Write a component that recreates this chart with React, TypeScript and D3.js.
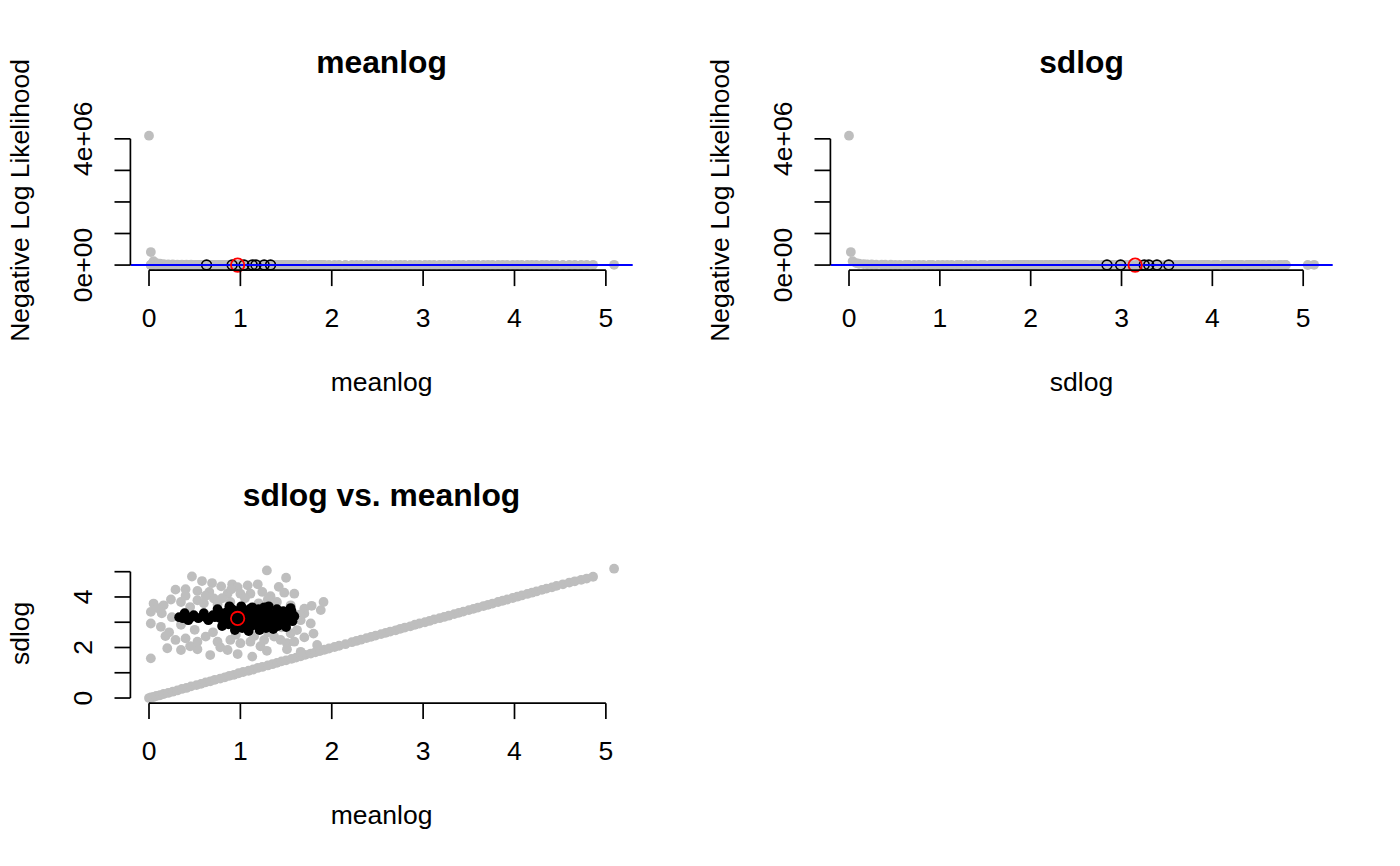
import React from 'react';
import * as d3 from 'd3';

// evaluated parameter sets along the start line: [meanlog, sdlog, negative log likelihood]
const diagonalPoints: [number, number, number][] = [
  [0.00, 0.00, 4100000], [0.02, 0.02, 412000], [0.05, 0.04, 121000], [0.08, 0.08, 64000],
  [0.12, 0.11, 41000], [0.16, 0.16, 29500], [0.21, 0.20, 22800], [0.26, 0.25, 18400],
  [0.31, 0.30, 15300], [0.36, 0.36, 13100], [0.41, 0.40, 11500], [0.46, 0.46, 10200],
  [0.52, 0.51, 9200], [0.57, 0.56, 8400], [0.62, 0.62, 7700], [0.67, 0.66, 7100],
  [0.72, 0.72, 6600], [0.78, 0.77, 6200], [0.83, 0.82, 5800], [0.88, 0.88, 5500],
  [0.93, 0.92, 5200], [0.98, 0.98, 4950], [1.03, 1.03, 4720], [1.09, 1.08, 4510],
  [1.14, 1.13, 4330], [1.19, 1.19, 4160], [1.24, 1.23, 4010], [1.30, 1.29, 3870],
  [1.35, 1.34, 3750], [1.40, 1.39, 3640], [1.45, 1.45, 3540], [1.50, 1.49, 3450],
  [1.56, 1.55, 3370], [1.61, 1.60, 3300], [1.66, 1.65, 3240], [1.71, 1.71, 3190],
  [1.77, 1.76, 3150], [1.82, 1.81, 3110], [1.87, 1.86, 3080], [1.92, 1.91, 3060],
  [1.97, 1.96, 3050], [2.03, 2.02, 3040], [2.08, 2.07, 3040], [2.15, 2.13, 3050],
  [2.22, 2.21, 3070], [2.27, 2.26, 3090], [2.32, 2.31, 3110], [2.38, 2.37, 3140],
  [2.43, 2.42, 3170], [2.48, 2.47, 3210], [2.54, 2.53, 3250], [2.59, 2.58, 3290],
  [2.64, 2.63, 3340], [2.70, 2.68, 3390], [2.75, 2.74, 3450], [2.80, 2.79, 3510],
  [2.86, 2.84, 3570], [2.91, 2.90, 3640], [2.96, 2.95, 3710], [3.02, 3.00, 3780],
  [3.07, 3.05, 3860], [3.12, 3.11, 3940], [3.18, 3.16, 4020], [3.23, 3.21, 4110],
  [3.28, 3.26, 4200], [3.34, 3.32, 4290], [3.39, 3.37, 4390], [3.44, 3.42, 4490],
  [3.50, 3.48, 4590], [3.55, 3.53, 4700], [3.60, 3.58, 4810], [3.66, 3.64, 4920],
  [3.71, 3.69, 5040], [3.76, 3.74, 5160], [3.82, 3.80, 5280], [3.87, 3.85, 5410],
  [3.92, 3.90, 5540], [3.98, 3.96, 5670], [4.03, 4.01, 5810], [4.08, 4.06, 5950],
  [4.14, 4.12, 6090], [4.19, 4.17, 6240], [4.24, 4.22, 6390], [4.30, 4.28, 6540],
  [4.35, 4.33, 6700], [4.41, 4.38, 6860], [4.46, 4.44, 7020], [4.53, 4.50, 7200],
  [4.60, 4.57, 7390], [4.66, 4.62, 7560], [4.73, 4.68, 7740], [4.79, 4.73, 7910],
  [4.86, 4.80, 8100], [5.09, 5.12, 8800],
];

// scattered evaluations around the optimum: [meanlog, sdlog, nll]
const cloudPoints: [number, number, number][] = [
  [1.29, 5.05, 2410], [0.47, 4.81, 2290], [1.50, 4.76, 2350], [0.58, 4.63, 2150],
  [0.69, 4.55, 2080], [0.79, 4.42, 1990], [0.66, 4.20, 1880], [0.91, 4.50, 2040],
  [0.97, 4.39, 1960], [1.08, 4.46, 2010], [1.19, 4.50, 2070], [0.29, 4.29, 2120],
  [0.40, 4.31, 2060], [0.53, 4.24, 1950], [0.86, 4.13, 1790], [1.00, 4.13, 1770],
  [1.11, 4.13, 1790], [1.33, 4.03, 1830], [1.48, 4.17, 1980], [1.59, 4.13, 2040],
  [1.24, 4.20, 1870], [0.05, 3.74, 2380], [0.16, 3.67, 2050], [0.24, 3.90, 2030],
  [0.35, 3.80, 1860], [0.02, 3.41, 2510], [0.14, 3.35, 2020], [0.02, 2.95, 2790],
  [0.13, 2.82, 2240], [0.18, 2.45, 2460], [0.29, 2.30, 2530], [0.40, 2.36, 2300],
  [0.02, 1.57, 4310], [0.53, 3.87, 1690], [0.71, 3.94, 1650], [0.89, 3.80, 1560],
  [1.40, 3.80, 1720], [1.55, 3.67, 1790], [1.70, 3.54, 1930], [1.91, 3.80, 2260],
  [1.88, 3.48, 2150], [1.77, 2.95, 2180], [1.70, 3.35, 1990], [1.66, 3.08, 1880],
  [1.62, 2.69, 2010], [1.70, 2.40, 2330], [1.55, 2.56, 2060], [1.51, 2.17, 2470],
  [0.53, 2.23, 2410], [0.62, 2.43, 2180], [0.75, 2.23, 2350], [0.89, 2.30, 2250],
  [1.00, 2.17, 2400], [1.11, 2.23, 2330], [1.26, 2.30, 2290], [1.37, 2.43, 2180],
  [1.44, 2.30, 2330], [1.59, 2.23, 2480], [0.20, 1.97, 3080], [0.35, 1.90, 3090],
  [0.53, 1.93, 2890], [0.78, 2.01, 2700], [0.97, 1.74, 3190], [1.13, 1.64, 3450],
  [1.29, 1.87, 2990], [1.51, 1.93, 3030], [1.66, 1.83, 3300], [1.84, 2.10, 3010],
  [0.86, 1.90, 2880], [0.67, 1.70, 3320], [0.45, 3.60, 1560], [0.60, 3.75, 1590],
  [0.75, 3.70, 1530], [1.20, 3.75, 1580], [1.30, 3.90, 1700], [0.50, 2.70, 1690],
  [0.70, 2.60, 1680], [1.30, 2.60, 1720], [1.45, 2.80, 1660], [0.25, 3.20, 1790],
  [0.35, 2.90, 1780], [1.65, 3.30, 1740], [0.90, 4.30, 1880], [1.05, 3.95, 1640],
  [0.40, 4.05, 1930], [0.80, 3.95, 1660], [1.15, 2.45, 2010], [0.95, 2.50, 1930],
  [0.10, 3.55, 2190], [0.22, 2.60, 2280], [0.62, 4.05, 1760], [1.42, 4.40, 2110],
  [1.78, 3.65, 2070], [1.80, 2.55, 2300], [0.45, 2.05, 2870], [1.22, 2.05, 2760],
];

// accepted parameter sets: [meanlog, sdlog]
const acceptedPoints: [number, number][] = [
  [0.33, 3.20], [0.39, 3.36], [0.43, 3.08], [0.49, 3.28], [0.54, 3.16], [0.60, 3.36],
  [0.65, 3.08], [0.70, 3.28], [0.75, 3.52], [0.78, 3.16], [0.80, 2.85], [0.85, 3.40],
  [0.88, 3.63], [0.90, 3.00], [0.94, 2.69], [0.96, 3.44], [0.99, 3.20], [1.01, 3.63],
  [1.04, 2.85], [1.07, 3.36], [1.09, 2.65], [1.11, 3.12], [1.13, 3.59], [1.17, 2.92],
  [1.19, 3.36], [1.21, 2.69], [1.24, 3.16], [1.26, 3.59], [1.29, 2.85], [1.32, 3.36],
  [1.34, 3.08], [1.36, 2.73], [1.40, 3.52], [1.42, 3.20], [1.45, 2.92], [1.47, 3.44],
  [1.51, 3.12], [1.54, 3.36], [1.57, 3.04], [1.59, 3.24], [0.83, 3.08], [0.97, 2.92],
  [1.16, 3.32], [1.31, 3.63], [1.44, 3.40], [1.55, 3.56], [1.06, 3.08], [1.22, 3.00],
  [1.37, 3.00], [1.50, 2.81], [0.72, 3.20], [0.86, 3.24], [0.92, 3.32], [0.95, 3.08],
  [1.00, 2.92], [1.03, 3.44], [1.08, 3.24], [1.12, 2.85], [1.14, 3.44], [1.18, 3.12],
  [1.23, 3.44], [1.27, 3.04], [1.30, 3.24], [1.35, 3.28], [1.39, 3.12], [1.41, 2.85],
  [1.46, 3.20], [1.49, 3.32], [1.53, 3.20], [1.56, 3.44], [0.91, 3.52], [1.10, 3.52],
  [1.20, 3.52], [1.28, 2.77], [1.02, 2.77], [0.87, 2.92], [0.79, 3.36], [0.62, 3.20],
  [0.46, 3.20], [0.37, 3.16],
];

// profile points drawn as open circles: [value, nll]
const meanlogProfile: [number, number][] = [
  [0.63, 1365], [0.91, 1322], [1.04, 1318], [1.13, 1327], [1.17, 1331], [1.26, 1348], [1.33, 1362],
];
const sdlogProfile: [number, number][] = [
  [2.84, 1368], [2.99, 1330], [3.25, 1321], [3.30, 1326], [3.39, 1339], [3.52, 1360],
];

const mleMeanlog = 0.97;
const mleSdlog = 3.15;
const mleNll = 1310;

const paramTicks = [0, 1, 2, 3, 4, 5];
const nllTicks = [0, 1e6, 2e6, 3e6, 4e6];
const nllTickLabels = ['0e+00', '', '', '', '4e+06'];
const sdlogTickLabels = ['0', '', '2', '', '4', ''];

const FONT = '"Liberation Sans", Arial, Helvetica, sans-serif';
const LINE = 31.8;
const TEXT_PX = 26.5;
const GRAY = '#bebebe';
const PT_R = 4.9;
const LW = 1.7;

// plot region inside each 700 x 433 figure cell (R mar = c(5,4,4,2) + 0.1)
const plotLeft = 130.4;
const plotRight = 632.7;
const plotTop = 130.5;
const plotBottom = 270.2;

// R extends the data range by 4% on each side
function padRange(values: number[]): [number, number] {
  const [lo, hi] = d3.extent(values) as [number, number];
  const d = (hi - lo) * 0.04;
  return [lo - d, hi + d];
}

interface PanelProps {
  ox: number;
  oy: number;
  title: string;
  xLabel: string;
  yLabel: string;
  x: d3.ScaleLinear<number, number>;
  y: d3.ScaleLinear<number, number>;
  yTicks: number[];
  yTickLabels: string[];
  children: React.ReactNode;
}

function Panel({ ox, oy, title, xLabel, yLabel, x, y, yTicks, yTickLabels, children }: PanelProps) {
  const tick = LINE * 0.5;
  const midX = (plotLeft + plotRight) / 2;
  const midY = (plotTop + plotBottom) / 2;
  return (
    <g transform={`translate(${ox},${oy})`}>
      {children}
      <text x={midX} y={plotTop - 58} textAnchor="middle" fontFamily={FONT}
        fontSize={TEXT_PX * 1.2} fontWeight="bold">{title}</text>

      {/* x axis */}
      <g stroke="black" strokeWidth={LW}>
        <line x1={x(paramTicks[0])} x2={x(paramTicks[paramTicks.length - 1])} y1={plotBottom} y2={plotBottom} />
        {paramTicks.map(t => (
          <line key={t} x1={x(t)} x2={x(t)} y1={plotBottom} y2={plotBottom + tick} />
        ))}
      </g>
      {paramTicks.map(t => (
        <text key={t} x={x(t)} y={plotBottom + LINE * 1.8} textAnchor="middle"
          fontFamily={FONT} fontSize={TEXT_PX}>{t}</text>
      ))}
      <text x={midX} y={plotBottom + LINE * 3.8} textAnchor="middle" fontFamily={FONT}
        fontSize={TEXT_PX}>{xLabel}</text>

      {/* y axis */}
      <g stroke="black" strokeWidth={LW}>
        <line x1={plotLeft} x2={plotLeft} y1={y(yTicks[0])} y2={y(yTicks[yTicks.length - 1])} />
        {yTicks.map(t => (
          <line key={t} x1={plotLeft - tick} x2={plotLeft} y1={y(t)} y2={y(t)} />
        ))}
      </g>
      {yTicks.map((t, i) => yTickLabels[i] ? (
        <text key={t} transform={`translate(${plotLeft - LINE * 1.2},${y(t)}) rotate(-90)`}
          textAnchor="middle" fontFamily={FONT} fontSize={TEXT_PX}>{yTickLabels[i]}</text>
      ) : null)}
      <text transform={`translate(${plotLeft - LINE * 3.2},${midY}) rotate(-90)`}
        textAnchor="middle" fontFamily={FONT} fontSize={TEXT_PX}>{yLabel}</text>
    </g>
  );
}

export default function App() {
  const grayPts = [...diagonalPoints, ...cloudPoints];
  const allMeanlog = grayPts.map(d => d[0]);
  const allSdlog = grayPts.map(d => d[1]);
  const allNll = grayPts.map(d => d[2]).concat(mleNll);

  const xMean = d3.scaleLinear().domain(padRange(allMeanlog)).range([plotLeft, plotRight]);
  const xSd = d3.scaleLinear().domain(padRange(allSdlog)).range([plotLeft, plotRight]);
  const yNll = d3.scaleLinear().domain(padRange(allNll)).range([plotBottom, plotTop]);
  const ySd = d3.scaleLinear().domain(padRange(allSdlog)).range([plotBottom, plotTop]);

  return (
    <div style={{ position: 'absolute', left: 0, top: 0, background: 'white' }}>
      <svg width={1400} height={866} style={{ display: 'block' }}>
        <rect width={1400} height={866} fill="white" />

        <Panel ox={0} oy={0} title="meanlog" xLabel="meanlog" yLabel="Negative Log Likelihood"
          x={xMean} y={yNll} yTicks={nllTicks} yTickLabels={nllTickLabels}>
          {grayPts.map((d, i) => (
            <circle key={i} cx={xMean(d[0])} cy={yNll(d[2])} r={PT_R} fill={GRAY} />
          ))}
          {meanlogProfile.map((d, i) => (
            <circle key={i} cx={xMean(d[0])} cy={yNll(d[1])} r={PT_R} fill="none" stroke="black" strokeWidth={1.6} />
          ))}
          <line x1={plotLeft} x2={plotRight} y1={yNll(mleNll)} y2={yNll(mleNll)} stroke="#0000ff" strokeWidth={2} />
          <circle cx={xMean(mleMeanlog)} cy={yNll(mleNll)} r={6.7} fill="none" stroke="#ff0000" strokeWidth={1.8} />
        </Panel>

        <Panel ox={700} oy={0} title="sdlog" xLabel="sdlog" yLabel="Negative Log Likelihood"
          x={xSd} y={yNll} yTicks={nllTicks} yTickLabels={nllTickLabels}>
          {grayPts.map((d, i) => (
            <circle key={i} cx={xSd(d[1])} cy={yNll(d[2])} r={PT_R} fill={GRAY} />
          ))}
          {sdlogProfile.map((d, i) => (
            <circle key={i} cx={xSd(d[0])} cy={yNll(d[1])} r={PT_R} fill="none" stroke="black" strokeWidth={1.6} />
          ))}
          <line x1={plotLeft} x2={plotRight} y1={yNll(mleNll)} y2={yNll(mleNll)} stroke="#0000ff" strokeWidth={2} />
          <circle cx={xSd(mleSdlog)} cy={yNll(mleNll)} r={6.7} fill="none" stroke="#ff0000" strokeWidth={1.8} />
        </Panel>

        <Panel ox={0} oy={433} title="sdlog vs. meanlog" xLabel="meanlog" yLabel="sdlog"
          x={xMean} y={ySd} yTicks={paramTicks} yTickLabels={sdlogTickLabels}>
          {grayPts.map((d, i) => (
            <circle key={i} cx={xMean(d[0])} cy={ySd(d[1])} r={PT_R} fill={GRAY} />
          ))}
          {acceptedPoints.map((d, i) => (
            <circle key={i} cx={xMean(d[0])} cy={ySd(d[1])} r={PT_R} fill="black" />
          ))}
          <circle cx={xMean(mleMeanlog)} cy={ySd(mleSdlog)} r={6.7} fill="none" stroke="#ff0000" strokeWidth={1.8} />
        </Panel>
      </svg>
    </div>
  );
}
